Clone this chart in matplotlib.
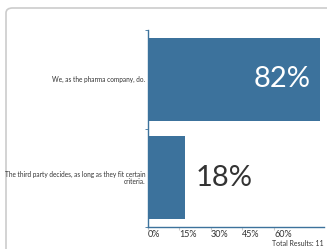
import matplotlib
matplotlib.use("Agg")
import matplotlib.pyplot as plt
from matplotlib.patches import FancyBboxPatch

categories = ["We, as the pharma company, do.",
              "The third party decides, as long as they fit certain\ncriteria."]
values = [82, 18]
xticks = [0, 15, 30, 45, 60]
total_results = 11

BAR = "#3c729c"
TEXT = "#333333"

fig = plt.figure(figsize=(3.27, 2.49), dpi=100)
fig.patch.set_facecolor("white")

# card outline
card = FancyBboxPatch((6 / 327, -0.05), 330 / 327, 1 - 8 / 249 + 0.05,
                      boxstyle="round,pad=0,rounding_size=0.02",
                      transform=fig.transFigure, facecolor="none",
                      edgecolor="#cccccc", linewidth=1.2, clip_on=False,
                      zorder=-1)
fig.patches.append(card)

ax = fig.add_axes([147.5 / 327, 1 - 227 / 249, (324 - 147.5) / 327, 197 / 249])
ax.set_facecolor("none")
ypos = list(range(len(categories)))
ax.barh(ypos, values, height=0.84, color=BAR)
ax.set_xlim(0, 83.7)
ax.set_ylim(1.5, -0.5)

for spine in ["top", "right"]:
    ax.spines[spine].set_visible(False)
for spine in ["left", "bottom"]:
    ax.spines[spine].set_color(BAR)
    ax.spines[spine].set_linewidth(1.0)

ax.set_xticks(xticks)
ax.set_xticklabels([f"{t}%" for t in xticks], fontsize=6.5, color=TEXT,
                   family="Lato", ha="left")
ax.tick_params(axis="x", length=2, color="#cccccc", pad=0.5)

ax.set_yticks(ypos)
ax.set_yticklabels(categories, fontsize=4.7, color=TEXT, family="Lato",
                   ha="right", linespacing=1.0)
ax.tick_params(axis="y", length=0, pad=1.5)
ax.set_yticks([-0.5, 0.5, 1.5], minor=True)
ax.tick_params(axis="y", which="minor", length=2, color=BAR)

# value labels
ax.text(values[0] - 4.5, 0, f"{values[0]}%", ha="right", va="center",
        color="white", fontsize=21, family="Lato")
ax.text(values[1] + 5, 1, f"{values[1]}%", ha="left", va="center",
        color=TEXT, fontsize=21, family="Lato")

fig.text(324 / 327, 1 - 243 / 249, f"Total Results: {total_results}",
         ha="right", va="center", fontsize=5, color=TEXT, family="Lato")

fig.savefig("out.png", dpi=100, facecolor="white")
